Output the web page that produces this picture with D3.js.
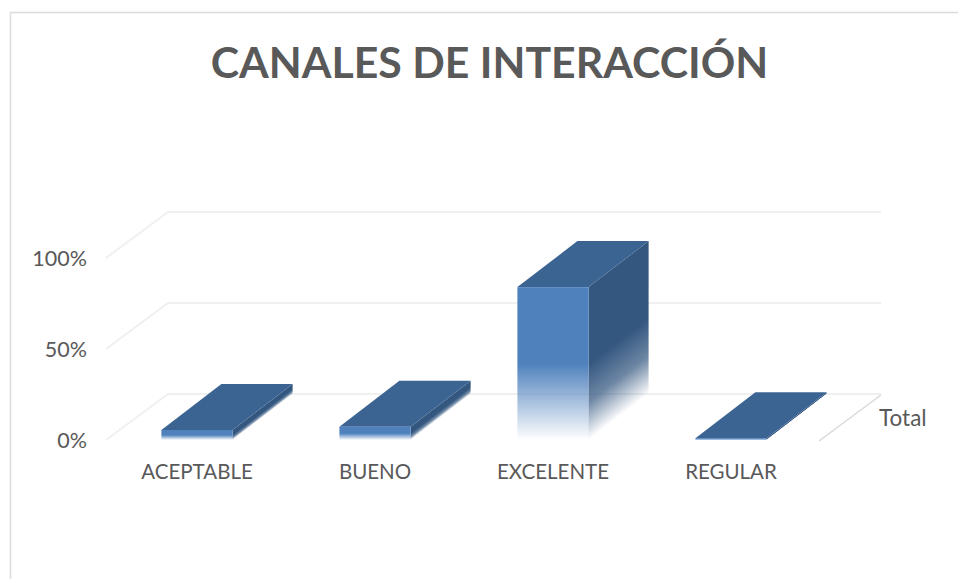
<!DOCTYPE html>
<html>
<head>
<meta charset="utf-8">
<script src="https://cdn.jsdelivr.net/npm/d3@7"></script>
<style>
	html, body { margin: 0; padding: 0; background: #fff; }
	svg { display: block; }
	text { font-family: Lato, "Open Sans", sans-serif; fill: #595959; }
</style>
</head>
<body>
<svg class="graph"></svg>
<script>
var categories = ["ACEPTABLE", "BUENO", "EXCELENTE", "REGULAR"];
var values = [5.5, 7.3, 84, 1];
var yTicks = [0, 50, 100];
var seriesLabel = "Total";
var title = "CANALES DE INTERACCIÓN";

var width = 958, height = 579;
var floorY = 440, topY = 258;
// how far the back wall sits from the front of the floor
var wallDx = 62, wallDy = -46;
var barDx = 60, barDy = -46;

var xScale = d3.scaleBand().domain(categories).range([108, 820])
	.paddingInner(.6).paddingOuter(.3);
var yScale = d3.scaleLinear().domain([0, 100]).range([floorY, topY]);

var svg = d3.select(".graph").attr("width", width).attr("height", height);
var defs = svg.append("defs");

// frame
svg.append("path")
	.attr("d", "M10.5,579V12.5H958")
	.style("fill", "none")
	.style("stroke", "#dcdcdc")
	.style("stroke-width", 1.5);

svg.append("text")
	.attr("x", 489.5)
	.attr("y", 78)
	.attr("text-anchor", "middle")
	.style("font-size", "42.8px")
	.style("font-weight", 700)
	.text(title);

// walls
var grid = svg.append("g");
yTicks.forEach(function(t){
	var y = yScale(t);
	grid.append("path")
		.attr("d", "M106," + y + "L" + (106 + wallDx) + "," + (y + wallDy) + "H881")
		.style("fill", "none")
		.style("stroke", "#f0f0f0")
		.style("stroke-width", 2);
});
grid.append("line")
	.attr("x1", 819).attr("y1", floorY + 1)
	.attr("x2", 819 + wallDx).attr("y2", floorY + 1 + wallDy)
	.style("stroke", "#d9d9d9")
	.style("stroke-width", 1.5);

// axes
var yAxis = d3.axisLeft(yScale).tickValues(yTicks).tickSize(0).tickPadding(0)
	.tickFormat(function(d){return d + "%"});
var yg = svg.append("g").attr("transform", "translate(87,1)").call(yAxis);
yg.select(".domain").remove();
yg.selectAll("text").style("font-size", "21.5px");
yg.attr("font-family", null);

var xAxis = d3.axisBottom(xScale).tickSize(0).tickPadding(0);
var xg = svg.append("g").attr("transform", "translate(0,464)").call(xAxis);
xg.select(".domain").remove();
xg.selectAll("text").style("font-size", "20.5px");
xg.attr("font-family", null);

svg.append("text")
	.attr("x", 879)
	.attr("y", 426)
	.style("font-size", "22.5px")
	.text(seriesLabel);

// fade is a share of the bar height, so short bars only fade at the foot
function fadeStops(grad, color, midOpacity){
	grad.append("stop").attr("offset", 0).attr("stop-color", color);
	grad.append("stop").attr("offset", .5).attr("stop-color", color).attr("stop-opacity", midOpacity);
	grad.append("stop").attr("offset", 1).attr("stop-color", color).attr("stop-opacity", 0);
}

var bars = svg.append("g");
categories.forEach(function(c, i){
	var x0 = xScale(c), x1 = x0 + xScale.bandwidth();
	var y0 = yScale(values[i]), y1 = yScale(0);
	var mid = y0 + (y1 - y0) * .5;

	var front = defs.append("linearGradient").attr("id", "front" + i)
		.attr("gradientUnits", "userSpaceOnUse")
		.attr("x1", 0).attr("y1", mid).attr("x2", 0).attr("y2", y1);
	fadeStops(front, "#4f81bd", .5);

	// side fade runs square to the sloped bottom edge
	var drop = y1 - mid;
	var t = drop * barDx / (barDx * barDx + barDy * barDy);
	var side = defs.append("linearGradient").attr("id", "side" + i)
		.attr("gradientUnits", "userSpaceOnUse")
		.attr("x1", x1).attr("y1", mid)
		.attr("x2", x1 + t * -barDy).attr("y2", mid + t * barDx);
	fadeStops(side, "#345780", .72);

	bars.append("path")
		.attr("d", "M" + x1 + "," + y0 + "l" + barDx + "," + barDy + "V" + (y1 + barDy) + "L" + x1 + "," + y1 + "Z")
		.style("fill", "url(#side" + i + ")");
	bars.append("path")
		.attr("d", "M" + x0 + "," + y0 + "l" + barDx + "," + barDy + "H" + (x1 + barDx) + "L" + x1 + "," + y0 + "Z")
		.style("fill", "#3c6492");
	bars.append("rect")
		.attr("x", x0)
		.attr("y", y0)
		.attr("width", x1 - x0)
		.attr("height", y1 - y0)
		.style("fill", "url(#front" + i + ")");
});
</script>
</body>
</html>
